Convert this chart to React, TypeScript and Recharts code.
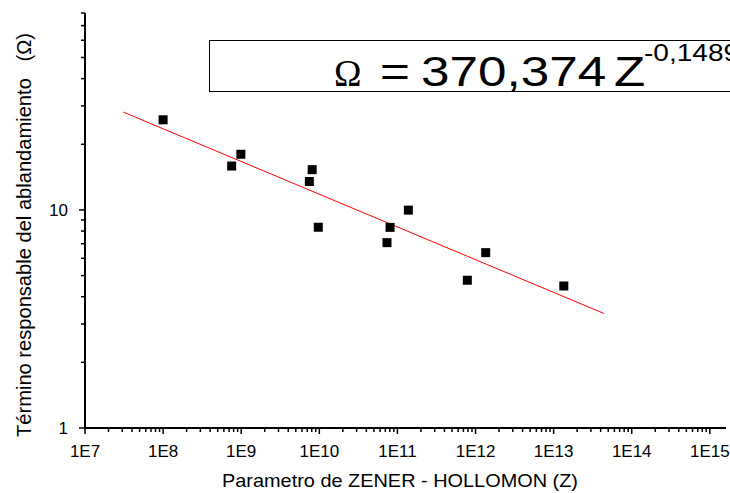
import React from 'react';
import { ComposedChart, Scatter, Line, XAxis, YAxis } from 'recharts';

// measured points (Z, Omega)
const zValues = [1.0e8, 7.55e8, 9.9e8, 7.45e9, 8.1e9, 9.7e9, 7.35e10, 8.05e10, 1.38e11, 7.85e11, 1.35e12, 1.35e13];
const omegaValues = [25.9, 15.9, 18.0, 13.5, 15.3, 8.33, 7.08, 8.32, 9.98, 4.76, 6.37, 4.48];

// fitted line endpoints
const fitZ = [3.09e7, 4.42e13];
const fitOmega = [28.1, 3.35];

const xMajorTicks = [1e7, 1e8, 1e9, 1e10, 1e11, 1e12, 1e13, 1e14, 1e15];
const xTickLabels = ['1E7', '1E8', '1E9', '1E10', '1E11', '1E12', '1E13', '1E14', '1E15'];
const yMajorTicks = [1, 10];
const yTickLabels = ['1', '10'];

const X_DOMAIN = [1e7, 1.61e15];
const Y_DOMAIN = [1, 80];

const minorTicks = (decades: number[], max: number) => {
  const out: number[] = [];
  decades.forEach((d) => {
    for (let m = 2; m <= 9; m++) {
      if (m * d <= max) out.push(m * d);
    }
  });
  return out;
};

const xTicks = [...xMajorTicks, ...minorTicks(xMajorTicks.slice(0, -1), X_DOMAIN[1])].sort((a, b) => a - b);
const yTicks = [...yMajorTicks, ...minorTicks(yMajorTicks, Y_DOMAIN[1])].sort((a, b) => a - b);

const points = zValues.map((z, i) => ({ z, omega: omegaValues[i] }));
const fitLine = fitZ.map((z, i) => ({ z, fit: fitOmega[i] }));

const FONT = 'Arial, "Liberation Sans", sans-serif';
const SERIF = '"Liberation Serif", "Times New Roman", serif';

const majorIndex = (list: number[], v: number) =>
  list.findIndex((t) => Math.abs(t - v) / t < 1e-6);

const XTick = (props: any) => {
  const { x, y, payload } = props;
  const idx = majorIndex(xMajorTicks, payload.value);
  const major = idx >= 0;
  return (
    <g>
      <line x1={x} x2={x} y1={y} y2={y + (major ? 6 : 4)} stroke="#000" strokeWidth={1.5} />
      {major && (
        <text x={x} y={y + 29} textAnchor="middle" fontSize={17} fontFamily={FONT} fill="#000">
          {xTickLabels[idx]}
        </text>
      )}
    </g>
  );
};

const YTick = (props: any) => {
  const { x, y, payload } = props;
  const idx = majorIndex(yMajorTicks, payload.value);
  const major = idx >= 0;
  return (
    <g>
      <line x1={x} x2={x - (major ? 6 : 4)} y1={y} y2={y} stroke="#000" strokeWidth={1.5} />
      {major && (
        <text x={x - 17} y={y + 6} textAnchor="end" fontSize={17} fontFamily={FONT} fill="#000">
          {yTickLabels[idx]}
        </text>
      )}
    </g>
  );
};

const SquareDot = (props: any) => {
  const { cx, cy } = props;
  if (cx == null || cy == null) return null;
  return <rect x={cx - 4.5} y={cy - 4.5} width={9} height={9} fill="#000" />;
};

const App: React.FC = () => {
  return (
    <div style={{ position: 'absolute', left: 0, top: 0, width: 730, height: 493, background: '#fff' }}>
      <ComposedChart width={730} height={493} margin={{ top: 13, right: 4, bottom: 0, left: 0 }}>
        <XAxis
          dataKey="z"
          type="number"
          scale="log"
          domain={X_DOMAIN}
          allowDataOverflow
          ticks={xTicks}
          interval={0}
          tick={<XTick />}
          tickLine={false}
          tickSize={0}
          tickMargin={0}
          height={65}
          axisLine={{ stroke: '#000', strokeWidth: 2 }}
        />
        <YAxis
          type="number"
          scale="log"
          domain={Y_DOMAIN}
          allowDataOverflow
          ticks={yTicks}
          interval={0}
          tick={<YTick />}
          tickLine={false}
          tickSize={0}
          tickMargin={0}
          width={85}
          axisLine={{ stroke: '#000', strokeWidth: 2 }}
        />
        <Line
          data={fitLine}
          dataKey="fit"
          type="linear"
          stroke="#ff0000"
          strokeWidth={1}
          dot={false}
          isAnimationActive={false}
        />
        <Scatter data={points} dataKey="omega" shape={<SquareDot />} isAnimationActive={false} />
      </ComposedChart>
      <svg
        width={730}
        height={493}
        style={{ position: 'absolute', left: 0, top: 0, pointerEvents: 'none' }}
      >
        {/* equation box, cut off at the right edge */}
        <rect x={209.5} y={40.5} width={530} height={51} fill="#fff" stroke="#000" strokeWidth={1} />
        <text x={334} y={86} fontFamily={SERIF} fontSize={37} fill="#000">Ω</text>
        <g fontFamily={FONT} fill="#000">
          <text transform="translate(380, 86) scale(1.22, 1)" fontSize={42}>=</text>
          <text transform="translate(421, 86) scale(1.22, 1)" fontSize={42}>370,374</text>
          <text transform="translate(614, 86) scale(1.22, 1)" fontSize={42}>Z</text>
          <text transform="translate(644, 61) scale(1.22, 1)" fontSize={23}>-0,1489</text>
        </g>
        <text
          transform="translate(31, 235) rotate(-90)"
          textAnchor="middle"
          fontSize={21}
          fontFamily={FONT}
          fill="#000"
          xmlSpace="preserve"
          textLength={404}
          lengthAdjust="spacingAndGlyphs"
        >
          Término responsable del ablandamiento   (Ω)
        </text>
        <text
          x={400}
          y={487}
          textAnchor="middle"
          fontSize={19}
          fontFamily={FONT}
          fill="#000"
          textLength={356}
          lengthAdjust="spacingAndGlyphs"
        >
          Parametro de ZENER - HOLLOMON (Z)
        </text>
      </svg>
    </div>
  );
};

export default App;
